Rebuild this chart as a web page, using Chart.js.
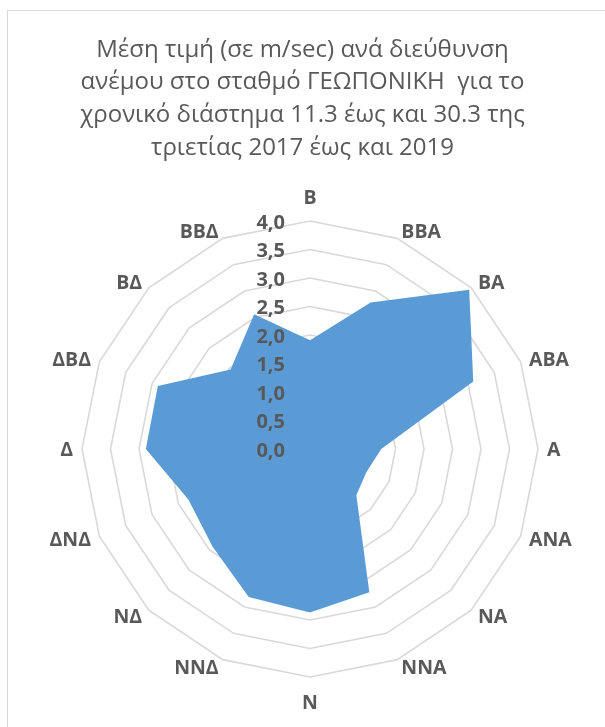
<!DOCTYPE html>
<html>
<head>
<meta charset="utf-8">
<script src="https://cdn.jsdelivr.net/npm/chart.js@4.4.1/dist/chart.umd.min.js"></script>
<style>
  html, body { margin: 0; padding: 0; background: #ffffff; overflow: hidden; }
  #frame { position: absolute; left: 7px; top: 10px; width: 640px; height: 760px; border: 1.5px solid #d9d9d9; box-sizing: border-box; }
  #wrap { position: absolute; left: 0; top: 0; width: 605px; height: 727px; }
</style>
</head>
<body>
<div id="frame"></div>
<div id="wrap"><canvas id="c" width="605" height="727"></canvas></div>
<script>
// Directions (clockwise from North)
const directions = ['Β', 'ΒΒΑ', 'ΒΑ', 'ΑΒΑ', 'Α', 'ΑΝΑ', 'ΝΑ', 'ΝΝΑ', 'Ν', 'ΝΝΔ', 'ΝΔ', 'ΔΝΔ', 'Δ', 'ΔΒΔ', 'ΒΔ', 'ΒΒΔ'];
// Mean wind speed (m/sec) per direction
const meanSpeed = [1.91, 2.78, 3.95, 3.10, 1.25, 1.07, 1.15, 2.72, 2.87, 2.81, 2.42, 2.31, 2.88, 2.89, 1.97, 2.56];
// Radial tick values and labels
const tickValues = [0, 0.5, 1, 1.5, 2, 2.5, 3, 3.5, 4];
const tickLabels = ['0,0', '0,5', '1,0', '1,5', '2,0', '2,5', '3,0', '3,5', '4,0'];
const titleLines = [
  'Μέση τιμή (σε m/sec) ανά διεύθυνση',
  'ανέμου στο σταθμό ΓΕΩΠΟΝΙΚΗ  για το',
  'χρονικό διάστημα 11.3 έως και 30.3 της',
  'τριετίας 2017 έως και 2019'
];

const GRAY = '#595959';
const LABEL_FONT = 'bold 19.5px "Open Sans"';
const TICK_FONT = 'bold 20px "Open Sans"';

// Draws the radial tick labels (left of the axis) and the direction labels
// around the outer ring, positioned with the radial scale.
const labelPlugin = {
  id: 'labelPlugin',
  afterDatasetsDraw(chart) {
    const s = chart.scales.r;
    const ctx = chart.ctx;
    ctx.save();
    ctx.fillStyle = GRAY;
    ctx.textBaseline = 'middle';

    ctx.font = TICK_FONT;
    ctx.textAlign = 'right';
    tickValues.forEach((v, i) => {
      const d = s.getDistanceFromCenterForValue(v);
      ctx.fillText(tickLabels[i], s.xCenter - 25, s.yCenter - d + 2);
    });

    ctx.font = LABEL_FONT;
    const r = s.drawingArea;
    directions.forEach((lab, i) => {
      const a = s.getIndexAngle(i);
      const sn = Math.sin(a);
      const cs = Math.cos(a);
      const p = s.getPointPosition(i, r + 8);
      let x = p.x, y = p.y;
      if (Math.abs(sn) < 0.01) {
        ctx.textAlign = 'center';
        y += cs > 0 ? -16.5 : 16.5;
      } else if (sn > 0) {
        ctx.textAlign = 'left';
        x += 1;
      } else {
        ctx.textAlign = 'right';
        x -= 1;
      }
      ctx.fillText(lab, x, y + 1.5);
    });
    ctx.restore();
  }
};

new Chart(document.getElementById('c'), {
  type: 'radar',
  data: {
    labels: directions,
    datasets: [{
      data: meanSpeed,
      backgroundColor: '#5b9bd5',
      borderColor: '#5b9bd5',
      borderWidth: 0,
      pointRadius: 0,
      pointHoverRadius: 0,
      fill: true
    }]
  },
  options: {
    responsive: false,
    animation: false,
    layout: { padding: { left: 74.5, right: 74.5, bottom: 50, top: 0 } },
    plugins: {
      legend: { display: false },
      tooltip: { enabled: false },
      title: {
        display: true,
        text: titleLines,
        color: GRAY,
        font: { family: '"Open Sans"', size: 24, weight: 'normal', lineHeight: 32.7 / 24 },
        padding: { top: 33.5, bottom: 56.7 }
      }
    },
    scales: {
      r: {
        min: 0,
        max: 4,
        ticks: { stepSize: 0.5, display: false },
        angleLines: { display: false },
        grid: { color: '#d9d9d9', lineWidth: 1.6 },
        pointLabels: { display: false },
        // the plot sits slightly right of the centred title, as in the original
        afterFit: (s) => { s.xCenter += 8; }
      }
    }
  },
  plugins: [labelPlugin]
});
</script>
</body>
</html>
